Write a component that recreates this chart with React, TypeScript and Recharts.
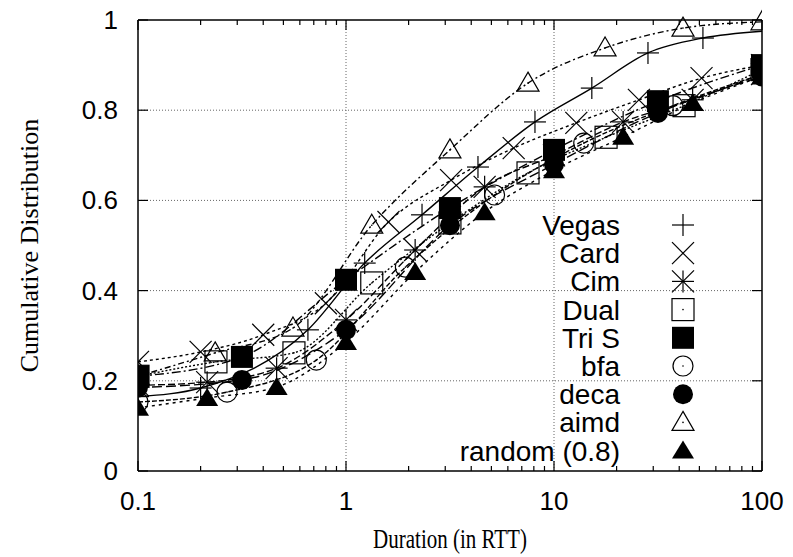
import React from "react";
import { LineChart, Line, XAxis, YAxis, ReferenceLine, Legend, Label } from "recharts";

// axis ticks
const X_TICKS = [
  0.1, 0.2, 0.3, 0.4, 0.5, 0.6, 0.7, 0.8, 0.9,
  1, 2, 3, 4, 5, 6, 7, 8, 9,
  10, 20, 30, 40, 50, 60, 70, 80, 90, 100,
];
const X_MAJOR = [0.1, 1, 10, 100];
const Y_TICKS = [0, 0.2, 0.4, 0.6, 0.8, 1];
const X_GRID = [1, 10];
const Y_GRID = [0.2, 0.4, 0.6, 0.8];

// series
const vegasX = [0.1, 0.2, 0.656, 1.23, 2.32, 4.31, 8.1, 15.2, 28.3, 52, 100];
const vegasY = [0.165, 0.184, 0.313, 0.461, 0.568, 0.674, 0.774, 0.849, 0.927, 0.96, 0.975];
const cardX = [0.1, 0.2, 0.4, 0.8, 1.6, 3.2, 6.4, 12.8, 25.6, 51.2, 100];
const cardY = [0.242, 0.264, 0.302, 0.372, 0.552, 0.645, 0.716, 0.772, 0.823, 0.871, 0.9];
const cimX = [0.1, 0.215, 0.464, 1, 2.15, 4.64, 10, 21.5, 46.4, 100];
const cimY = [0.19, 0.197, 0.228, 0.335, 0.49, 0.63, 0.7, 0.774, 0.823, 0.88];
const dualX = [0.1, 0.237, 0.562, 1.33, 3.16, 7.5, 17.8, 42.2, 100];
const dualY = [0.21, 0.242, 0.262, 0.417, 0.55, 0.661, 0.74, 0.81, 0.89];
const triSX = [0.1, 0.316, 1, 3.16, 10, 31.6, 100];
const triSY = [0.21, 0.253, 0.424, 0.583, 0.712, 0.82, 0.9];
const bfaX = [0.1, 0.268, 0.72, 1.93, 5.18, 13.9, 37.3, 100];
const bfaY = [0.153, 0.175, 0.246, 0.452, 0.612, 0.727, 0.81, 0.88];
const decaX = [0.1, 0.316, 1, 3.16, 10, 31.6, 100];
const decaY = [0.185, 0.202, 0.313, 0.545, 0.68, 0.794, 0.875];
const aimdX = [0.1, 0.235, 0.556, 1.33, 3.16, 7.5, 17.6, 41.7, 100];
const aimdY = [0.21, 0.262, 0.317, 0.545, 0.712, 0.86, 0.938, 0.982, 0.996];
const randomX = [0.1, 0.215, 0.464, 1, 2.15, 4.64, 10, 21.5, 46.4, 100];
const randomY = [0.14, 0.162, 0.186, 0.286, 0.441, 0.574, 0.667, 0.741, 0.816, 0.875];

const zip = (xs: number[], ys: number[]) => xs.map((x, i) => ({ x, y: ys[i] }));

type Shape = "plus" | "cross" | "star" | "square" | "fsquare" | "circle" | "fcircle" | "tri" | "ftri";

const SERIES: { name: string; data: { x: number; y: number }[]; shape: Shape; dash?: string; skipLast?: boolean }[] = [
  { name: "Vegas", data: zip(vegasX, vegasY), shape: "plus", skipLast: true },
  { name: "Card", data: zip(cardX, cardY), shape: "cross", dash: "3 3" },
  { name: "Cim", data: zip(cimX, cimY), shape: "star", dash: "7 3" },
  { name: "Dual", data: zip(dualX, dualY), shape: "square", dash: "2 2" },
  { name: "Tri S", data: zip(triSX, triSY), shape: "fsquare", dash: "9 3 2 3" },
  { name: "bfa", data: zip(bfaX, bfaY), shape: "circle", dash: "5 2" },
  { name: "deca", data: zip(decaX, decaY), shape: "fcircle", dash: "10 4" },
  { name: "aimd", data: zip(aimdX, aimdY), shape: "tri", dash: "6 3 2 3" },
  { name: "random (0.8)", data: zip(randomX, randomY), shape: "ftri", dash: "3 4" },
];

const W = 793;
const H = 557;
const PLOT_TOP = 20;
const PLOT_RIGHT = 762;
const TICK_SIZE = 4;
const TICK_MARGIN = 4;
const SANS = "'Liberation Sans', Arial, sans-serif";
const SERIF = "'Liberation Serif', 'Times New Roman', serif";
const FONT = 26;
const KEY_FONT = 28;

function Marker({ cx, cy, shape }: { cx: number; cy: number; shape: Shape }) {
  const s = 11;
  const st = { stroke: "#000", strokeWidth: 1.2 };
  const centerDot = <circle cx={cx} cy={cy} r={0.8} fill="#000" />;
  switch (shape) {
    case "plus":
      return (
        <g {...st}>
          <line x1={cx - s} x2={cx + s} y1={cy} y2={cy} />
          <line x1={cx} x2={cx} y1={cy - s} y2={cy + s} />
        </g>
      );
    case "cross":
      return (
        <g {...st}>
          <line x1={cx - s} x2={cx + s} y1={cy - s} y2={cy + s} />
          <line x1={cx - s} x2={cx + s} y1={cy + s} y2={cy - s} />
        </g>
      );
    case "star":
      return (
        <g {...st}>
          <line x1={cx - s} x2={cx + s} y1={cy} y2={cy} />
          <line x1={cx} x2={cx} y1={cy - s} y2={cy + s} />
          <line x1={cx - s} x2={cx + s} y1={cy - s} y2={cy + s} />
          <line x1={cx - s} x2={cx + s} y1={cy + s} y2={cy - s} />
        </g>
      );
    case "square":
      return (
        <g>
          <rect x={cx - s} y={cy - s} width={2 * s} height={2 * s} fill="none" {...st} />
          {centerDot}
        </g>
      );
    case "fsquare":
      return <rect x={cx - s} y={cy - s} width={2 * s} height={2 * s} fill="#000" />;
    case "circle":
      return (
        <g>
          <circle cx={cx} cy={cy} r={10} fill="none" {...st} />
          {centerDot}
        </g>
      );
    case "fcircle":
      return <circle cx={cx} cy={cy} r={10} fill="#000" />;
    case "tri":
      return (
        <g>
          <polygon points={`${cx},${cy - 11} ${cx + 11},${cy + 8} ${cx - 11},${cy + 8}`} fill="none" {...st} />
          {centerDot}
        </g>
      );
    case "ftri":
      return <polygon points={`${cx},${cy - 10} ${cx + 11},${cy + 8} ${cx - 11},${cy + 8}`} fill="#000" />;
  }
  return null;
}

const fmtX = (v: number) => (v < 1 ? v.toFixed(1) : String(v));

const XTick = (props: any) => {
  const { x, y, payload } = props;
  const v = payload.value;
  const major = X_MAJOR.includes(v);
  const axisY = y - TICK_SIZE - TICK_MARGIN;
  const len = major ? 10 : 5;
  return (
    <g>
      <line x1={x} x2={x} y1={axisY} y2={axisY - len} stroke="#000" strokeWidth={1.2} />
      <line x1={x} x2={x} y1={PLOT_TOP} y2={PLOT_TOP + len} stroke="#000" strokeWidth={1.2} />
      {major && (
        <text x={x} y={axisY + 39} textAnchor="middle" fontFamily={SANS} fontSize={FONT} fill="#000">
          {fmtX(v)}
        </text>
      )}
    </g>
  );
};

const YTick = (props: any) => {
  const { x, y, payload } = props;
  const axisX = x + TICK_SIZE + TICK_MARGIN;
  return (
    <g>
      <line x1={axisX} x2={axisX + 10} y1={y} y2={y} stroke="#000" strokeWidth={1.2} />
      <line x1={PLOT_RIGHT} x2={PLOT_RIGHT - 10} y1={y} y2={y} stroke="#000" strokeWidth={1.2} />
      <text x={axisX - 20} y={y + 9} textAnchor="end" fontFamily={SANS} fontSize={FONT} fill="#000">
        {String(payload.value)}
      </text>
    </g>
  );
};

const renderLegend = () => (
  <svg width={300} height={270} style={{ display: "block" }}>
    {SERIES.map((s, i) => {
      const cy = 17 + 28.2 * i;
      return (
        <g key={s.name}>
          <text x={212} y={cy + 10} textAnchor="end" fontFamily={SANS} fontSize={KEY_FONT} fill="#000">
            {s.name}
          </text>
          <Marker cx={275} cy={cy} shape={s.shape} />
        </g>
      );
    })}
  </svg>
);

export default function App() {
  return (
    <div style={{ position: "absolute", left: 0, top: 0, background: "#fff" }}>
      <LineChart width={W} height={H} margin={{ top: PLOT_TOP, right: W - PLOT_RIGHT, bottom: 0, left: 0 }}>
        <XAxis
          type="number"
          dataKey="x"
          scale="log"
          domain={[0.1, 100]}
          allowDataOverflow
          ticks={X_TICKS}
          interval={0}
          height={86}
          tickSize={TICK_SIZE}
          tickMargin={TICK_MARGIN}
          tickLine={false}
          tick={<XTick />}
          axisLine={{ stroke: "#000", strokeWidth: 1.5 }}
        >
          <Label
            content={(p: any) => {
              const vb = p.viewBox;
              const cx = vb.x + vb.width / 2;
              const by = vb.y + 77;
              return (
                <text
                  x={0}
                  y={0}
                  transform={`translate(${cx} ${by}) scale(1 1.25)`}
                  textAnchor="middle"
                  fontFamily={SERIF}
                  fontSize={21}
                  fill="#000"
                >
                  Duration (in RTT)
                </text>
              );
            }}
          />
        </XAxis>
        <YAxis
          type="number"
          dataKey="y"
          domain={[0, 1]}
          ticks={Y_TICKS}
          interval={0}
          width={138}
          tickSize={TICK_SIZE}
          tickMargin={TICK_MARGIN}
          tickLine={false}
          tick={<YTick />}
          axisLine={{ stroke: "#000", strokeWidth: 1.5 }}
        >
          <Label
            content={(p: any) => {
              const vb = p.viewBox;
              const cx = vb.x + 29;
              const cy = vb.y + vb.height / 2;
              return (
                <text
                  x={cx}
                  y={cy}
                  transform={`rotate(-90 ${cx} ${cy})`}
                  textAnchor="middle"
                  dominantBaseline="central"
                  fontFamily={SERIF}
                  fontSize={26}
                  fill="#000"
                >
                  Cumulative Distribution
                </text>
              );
            }}
          />
        </YAxis>
        {X_GRID.map((v) => (
          <ReferenceLine key={"gx" + v} x={v} stroke="#666" strokeDasharray="1 2" />
        ))}
        {Y_GRID.map((v) => (
          <ReferenceLine key={"gy" + v} y={v} stroke="#666" strokeDasharray="1 2" />
        ))}
        <ReferenceLine y={1} stroke="#000" strokeWidth={1.5} />
        <ReferenceLine x={100} stroke="#000" strokeWidth={1.5} />
        {SERIES.map((s) => (
          <Line
            key={s.name}
            name={s.name}
            data={s.data}
            dataKey="y"
            type="monotone"
            stroke="#000"
            strokeWidth={1.4}
            strokeDasharray={s.dash}
            isAnimationActive={false}
            activeDot={false}
            dot={(p: any) => {
              if (s.skipLast && p.index === s.data.length - 1) return <g key={p.index} />;
              return (
                <g key={p.index}>
                  <Marker cx={p.cx} cy={p.cy} shape={s.shape} />
                </g>
              );
            }}
          />
        ))}
        <Legend
          layout="horizontal"
          verticalAlign="middle"
          align="center"
          content={renderLegend}
          wrapperStyle={{ position: "absolute", left: 408, top: 208, width: 300, height: 270 }}
        />
      </LineChart>
    </div>
  );
}
